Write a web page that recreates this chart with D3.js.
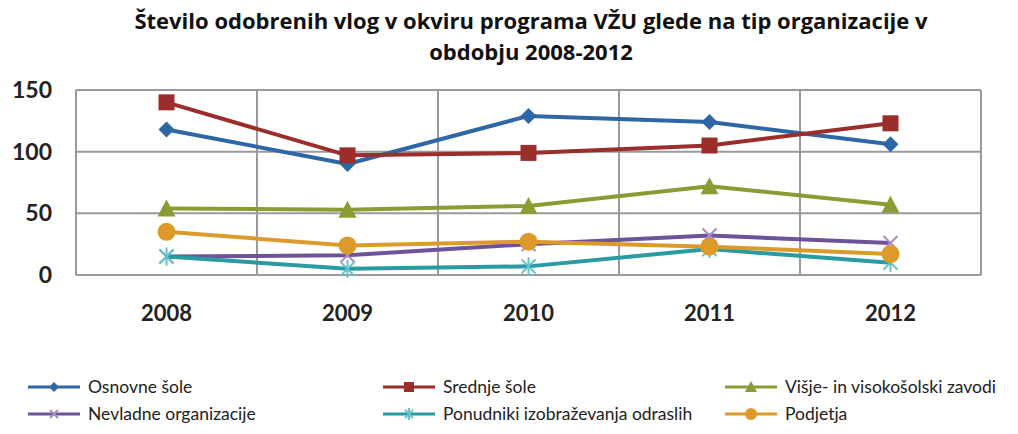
<!DOCTYPE html>
<html><head><meta charset="utf-8">
<script src="https://cdn.jsdelivr.net/npm/d3@7"></script>
<style>body{margin:0;background:#fff}svg{display:block}</style>
</head><body>
<svg id="c" width="1018" height="434"></svg>
<script>
const years = ["2008","2009","2010","2011","2012"];
const seriesNames = ["Osnovne šole","Srednje šole","Višje- in visokošolski zavodi","Nevladne organizacije","Ponudniki izobraževanja odraslih","Podjetja"];
const osnovne   = [118, 90, 129, 124, 106];
const srednje   = [140, 97, 99, 105, 123];
const visje     = [54, 53, 56, 72, 57];
const nevladne  = [15, 16, 25, 32, 26];
const ponudniki = [15, 5, 7, 21, 10];
const podjetja  = [35, 24, 27, 23, 17];
const yTicks = [0, 50, 100, 150];
const colors = ["#2e66a6","#9b2d2b","#8d9b34","#6f5399","#2a9aa3","#dc9a2a"];
const markers = ["diamond","square","triangle","x","star","circle"];
const data = [osnovne, srednje, visje, nevladne, ponudniki, podjetja];

const svg = d3.select("#c");
const L = 76, R = 981, T = 90, B = 275;
const x = d3.scaleBand().domain(years).range([L, R]);
const y = d3.scaleLinear().domain([0,150]).range([B, T]);

// title
const title = svg.append("text").attr("text-anchor","middle")
  .attr("font-family","'Open Sans', sans-serif").attr("font-weight","bold")
  .attr("font-size",22).attr("fill","#111");
title.append("tspan").attr("x",531).attr("y",29).text("Število odobrenih vlog v okviru programa VŽU glede na tip organizacije v");
title.append("tspan").attr("x",531).attr("y",60).text("obdobju 2008-2012");

// grid
const g = svg.append("g");
g.selectAll(".hg").data(yTicks).join("line")
  .attr("x1",L).attr("x2",R).attr("y1",d=>y(d)).attr("y2",d=>y(d))
  .attr("stroke","#9a9a9a").attr("stroke-width",2);
const vx = years.map(d=>x(d)).concat([R]);
g.selectAll(".vg").data(vx).join("line")
  .attr("x1",d=>d).attr("x2",d=>d).attr("y1",T).attr("y2",B)
  .attr("stroke","#9a9a9a").attr("stroke-width",2);

// axes
const yAxis = d3.axisLeft(y).tickValues(yTicks).tickSize(0).tickPadding(24);
const ya = svg.append("g").attr("transform",`translate(${L},0)`).call(yAxis);
ya.select(".domain").remove();
ya.selectAll("text").attr("font-family","Lato, sans-serif").attr("font-weight","bold").attr("font-size",23).attr("fill","#222");

const xAxis = d3.axisBottom(x).tickSize(0).tickPadding(30);
const xa = svg.append("g").attr("transform",`translate(0,${B})`).call(xAxis);
xa.select(".domain").remove();
xa.selectAll("text").attr("font-family","Lato, sans-serif").attr("font-weight","bold").attr("font-size",22).attr("fill","#222");

function marker(sel, type, color, s) {
  const h = s/2;
  if (type==="diamond") sel.append("path").attr("d",`M0,${-h-1}L${h+1},0L0,${h+1}L${-h-1},0Z`).attr("fill",color);
  else if (type==="square") sel.append("rect").attr("x",-h-1).attr("y",-h-1).attr("width",s+2).attr("height",s+2).attr("fill",color);
  else if (type==="triangle") sel.append("path").attr("d",`M0,${-h-2}L${h+2},${h+1}L${-h-2},${h+1}Z`).attr("fill",color);
  else if (type==="circle") sel.append("circle").attr("r",h+2).attr("fill",color);
  else if (type==="x") sel.append("path").attr("d",`M${-h},${-h}L${h},${h}M${-h},${h}L${h},${-h}`).attr("stroke","#a98cc6").attr("stroke-width",2);
  else if (type==="star") sel.append("path").attr("d",`M${-h},${-h}L${h},${h}M${-h},${h}L${h},${-h}M0,${-h-2}L0,${h+2}`).attr("stroke","#63c3c8").attr("stroke-width",2);
}

const line = d3.line().x((d,i)=>x(years[i])+x.bandwidth()/2).y(d=>y(d));
data.forEach((vals,si)=>{
  svg.append("path").attr("d",line(vals)).attr("fill","none").attr("stroke",colors[si]).attr("stroke-width",4).attr("stroke-linejoin","round");
  vals.forEach((v,i)=>{
    const m = svg.append("g").attr("transform",`translate(${x(years[i])+x.bandwidth()/2},${y(v)})`);
    marker(m, markers[si], colors[si], 14);
  });
});

// legend
const legX = [28, 383, 725], legY = [387, 414];
seriesNames.forEach((name,i)=>{
  const lx = legX[i%3], ly = legY[Math.floor(i/3)];
  const lg = svg.append("g").attr("transform",`translate(${lx},${ly})`);
  lg.append("line").attr("x1",0).attr("x2",52).attr("y1",0).attr("y2",0).attr("stroke",colors[i]).attr("stroke-width",3);
  const m = lg.append("g").attr("transform","translate(26,0)");
  marker(m, markers[i], colors[i], 8);
  lg.append("text").attr("x",60).attr("y",6).text(name)
    .attr("font-family","Lato, sans-serif").attr("font-size",17.5).attr("fill","#222");
});
</script>
</body></html>
